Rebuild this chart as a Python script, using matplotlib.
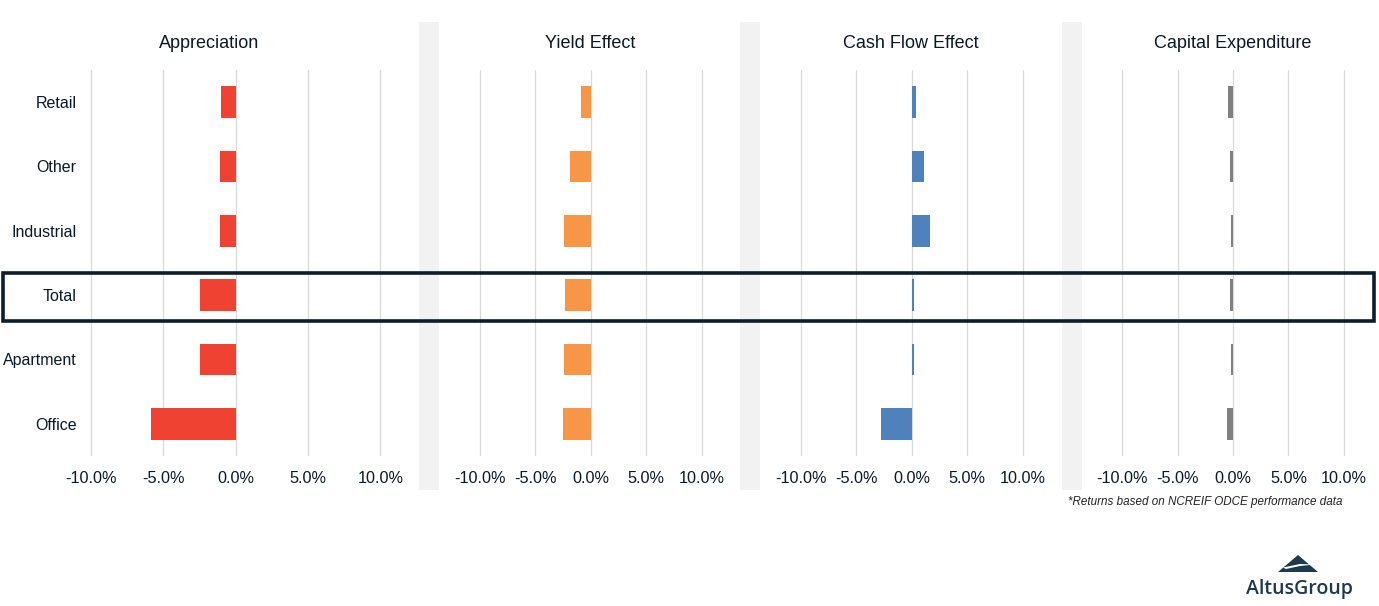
import matplotlib
matplotlib.use("Agg")
import matplotlib.pyplot as plt
from matplotlib.patches import Rectangle, Polygon
from matplotlib.ticker import FuncFormatter

# ---- data ----
categories = ["Retail", "Other", "Industrial", "Total", "Apartment", "Office"]
appreciation = [-1.0, -1.05, -1.05, -2.45, -2.45, -5.85]
yield_effect = [-0.85, -1.85, -2.45, -2.3, -2.4, -2.5]
cash_flow_effect = [0.4, 1.1, 1.65, 0.18, 0.18, -2.8]
capital_expenditure = [-0.45, -0.25, -0.18, -0.25, -0.18, -0.5]
panel_titles = ["Appreciation", "Yield Effect", "Cash Flow Effect", "Capital Expenditure"]
tick_values = [-10, -5, 0, 5, 10]
footnote = "*Returns based on NCREIF ODCE performance data"

W, H = 1379, 606
plt.rcParams['font.family'] = ['Liberation Sans', 'DejaVu Sans']
fig = plt.figure(figsize=(W / 100, H / 100), dpi=100)
fig.patch.set_facecolor("white")

text_col = "#0b1828"

def fx(px):
    return px / W

def fy(py):
    return 1 - py / H

# gray separator bands
for x0 in [419, 740, 1062]:
    fig.patches.append(Rectangle((fx(x0), fy(490)), fx(20), (490 - 22) / H,
                                 transform=fig.transFigure, facecolor="#f2f2f2",
                                 edgecolor="none", zorder=0))

series = [appreciation, yield_effect, cash_flow_effect, capital_expenditure]
colors = ["#f04232", "#f79646", "#4f81bd", "#808080"]
zero_px = [235.5, 590.7, 911.7, 1233.0]
scale_px = [14.48, 11.1, 11.12, 11.08]
title_x = [209, 590, 911, 1233]
xlo, xhi = -10.6, 10.6
top_px, bot_px = 70, 456

for i, (vals, col) in enumerate(zip(series, colors)):
    left = zero_px[i] + scale_px[i] * xlo
    width = scale_px[i] * (xhi - xlo)
    ax = fig.add_axes([fx(left), fy(bot_px), fx(width), (bot_px - top_px) / H])
    ax.set_facecolor("none")
    y = list(range(len(categories)))
    ax.barh(y, vals, height=0.49, color=col, edgecolor="none", zorder=3)
    ax.set_xlim(xlo, xhi)
    ax.set_ylim(len(categories) - 0.5, -0.5)
    ax.set_xticks(tick_values)
    ax.xaxis.set_major_formatter(FuncFormatter(lambda v, p: f"{v:.1f}%"))
    ax.grid(axis="x", color="#d9d9d9", linewidth=0.9, zorder=0)
    ax.set_axisbelow(True)
    for s in ax.spines.values():
        s.set_visible(False)
    ax.tick_params(axis="x", length=0, pad=11, labelsize=11.7, labelcolor=text_col)
    if i == 0:
        ax.set_yticks(y)
        ax.set_yticklabels(categories)
        ax.tick_params(axis="y", length=0, pad=4, labelsize=11.5, labelcolor=text_col)
    else:
        ax.set_yticks([])
    fig.text(fx(title_x[i]), fy(43), panel_titles[i], ha="center", va="center",
             fontsize=13, color=text_col)

# highlight box around Total
fig.patches.append(Rectangle((fx(3), fy(320.7)), fx(1374.3 - 3), (320.7 - 273) / H,
                             transform=fig.transFigure, fill=False,
                             edgecolor="#0c1d2c", linewidth=2.6, zorder=10))

# footnote
fig.text(fx(1343), fy(502), footnote, ha="right", va="center", fontsize=8.4,
         style="italic", color="#222222")

# logo
logo_col = "#1c3a4c"
tri = Polygon([(fx(1278), fy(572)), (fx(1298), fy(555)), (fx(1318), fy(572))],
              closed=True, transform=fig.transFigure, facecolor=logo_col,
              edgecolor="none", zorder=5)
fig.patches.append(tri)
swoosh = Polygon([(fx(1283), fy(567.5)), (fx(1300), fy(564)), (fx(1315), fy(564.5)),
                  (fx(1300), fy(566)), (fx(1286), fy(569))],
                 closed=True, transform=fig.transFigure, facecolor="white",
                 edgecolor="none", zorder=6)
fig.patches.append(swoosh)
fig.text(fx(1299), fy(589), "AltusGroup", ha="center", va="center", fontsize=14,
         family="Open Sans", fontweight="semibold", color=logo_col)

fig.savefig("out.png", dpi=100, facecolor="white")
